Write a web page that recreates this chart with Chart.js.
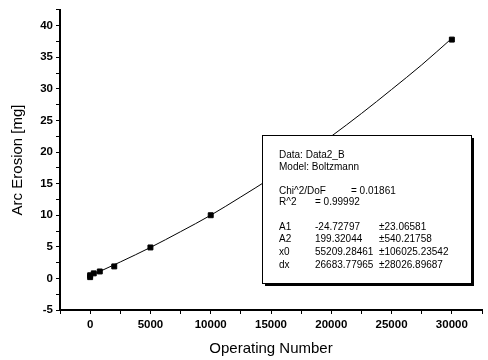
<!DOCTYPE html>
<html>
<head>
<meta charset="utf-8">
<script src="https://cdn.jsdelivr.net/npm/chart.js@4/dist/chart.umd.min.js"></script>
<style>
  html, body { margin: 0; padding: 0; background: #fff; }
  #wrap { width: 488px; height: 360px; }
</style>
</head>
<body>
<div id="wrap"><canvas id="erosionChart" width="488" height="360"></canvas></div>
<script>
// measured points
const opNumbers = [0, 0, 300, 800, 2000, 5000, 10000, 30000];
const erosion = [0.2, 0.5, 0.8, 1.1, 1.9, 4.9, 10.0, 37.8];

// fitted curve
const fitX = [0, 2500, 5000, 7500, 10000, 12500, 15000, 17500, 20000, 22500, 25000, 27500, 30000];
const fitY = [0.4, 2.6, 4.9, 7.4, 10.0, 12.9, 15.9, 19.1, 22.5, 26.1, 29.9, 33.8, 38.0];

// fit report shown in the box
const fitHeader = ['Data: Data2_B', 'Model: Boltzmann'];
const fitStats = [['Chi^2/DoF', '= 0.01861'], ['R^2', '= 0.99992']];
const fitParams = [
    ['A1', '-24.72797', '\u00b123.06581'],
    ['A2', '199.32044', '\u00b1540.21758'],
    ['x0', '55209.28461', '\u00b1106025.23542'],
    ['dx', '26683.77965', '\u00b128026.89687']
];

const fitBox = {
    id: 'fitBox',
    afterDatasetsDraw(chart) {
        const ctx = chart.ctx;
        const x = 262, y = 135, w = 209, h = 148;
        ctx.save();
        ctx.fillStyle = '#000';
        ctx.fillRect(x + 3, y + 3, w, h);
        ctx.fillStyle = '#fff';
        ctx.fillRect(x, y, w, h);
        ctx.strokeStyle = '#000';
        ctx.lineWidth = 1;
        ctx.strokeRect(x + 0.5, y + 0.5, w, h);

        ctx.fillStyle = '#000';
        ctx.font = '10px "Liberation Sans", Arial, sans-serif';
        ctx.textBaseline = 'middle';
        ctx.fillText(fitHeader[0], 279, 155);
        ctx.fillText(fitHeader[1], 279, 167);
        ctx.fillText(fitStats[0][0], 279, 191);
        ctx.fillText(fitStats[0][1], 351, 191);
        ctx.fillText(fitStats[1][0], 279, 202);
        ctx.fillText(fitStats[1][1], 315, 202);
        fitParams.forEach((row, i) => {
            const ry = 227 + i * 12.7;
            ctx.fillText(row[0], 279, ry);
            ctx.fillText(row[1], 315, ry);
            ctx.fillText(row[2], 379, ry);
        });
        ctx.restore();
    }
};

const tickFont = { family: '"Liberation Sans", Arial, sans-serif', size: 11.5, weight: 'bold' };
const titleFont = { family: '"Liberation Sans", Arial, sans-serif', size: 15 };

new Chart(document.getElementById('erosionChart'), {
    type: 'scatter',
    data: {
        datasets: [{
            label: 'Data2_B',
            data: opNumbers.map((v, i) => ({ x: v, y: erosion[i] })),
            pointStyle: 'rect',
            pointRadius: 3.5,
            backgroundColor: '#000',
            borderColor: '#000',
            showLine: false
        }, {
            label: 'Boltzmann fit',
            data: fitX.map((v, i) => ({ x: v, y: fitY[i] })),
            showLine: true,
            pointRadius: 0,
            borderColor: '#000',
            borderWidth: 1,
            cubicInterpolationMode: 'monotone'
        }]
    },
    options: {
        responsive: false,
        animation: false,
        layout: { padding: { top: 6, right: 6, left: 0, bottom: 0 } },
        plugins: {
            legend: { display: false },
            tooltip: { enabled: false }
        },
        scales: {
            x: {
                type: 'linear',
                min: -2500,
                max: 32500,
                afterFit: function (scale) { scale.height = 50; },
                border: { color: '#000', width: 2 },
                grid: { drawOnChartArea: false, color: '#000', tickLength: 4 },
                ticks: {
                    stepSize: 2500,
                    color: '#000',
                    font: tickFont,
                    padding: 4,
                    maxRotation: 0,
                    autoSkip: false,
                    callback: function (v) { return v % 5000 === 0 ? v : ''; }
                },
                title: {
                    display: true,
                    text: 'Operating Number',
                    color: '#000',
                    font: titleFont,
                    padding: { top: 0, bottom: 2 }
                }
            },
            y: {
                type: 'linear',
                min: -5,
                max: 42.5,
                afterFit: function (scale) { scale.width = 60; },
                border: { color: '#000', width: 2 },
                grid: { drawOnChartArea: false, color: '#000', tickLength: 4 },
                ticks: {
                    stepSize: 2.5,
                    color: '#000',
                    font: tickFont,
                    padding: 3,
                    autoSkip: false,
                    callback: function (v) { return v % 5 === 0 ? v : ''; }
                },
                title: {
                    display: true,
                    text: 'Arc Erosion [mg]',
                    color: '#000',
                    font: titleFont,
                    padding: { top: 9, bottom: 0 }
                }
            }
        }
    },
    plugins: [fitBox]
});
</script>
</body>
</html>
